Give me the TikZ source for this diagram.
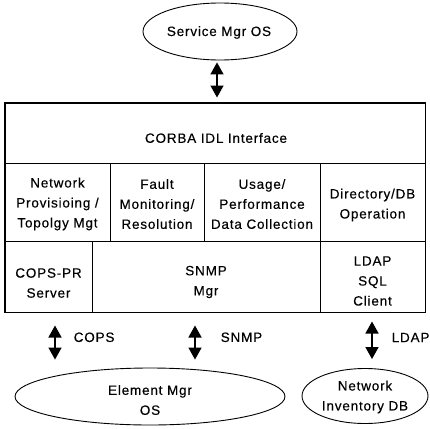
\documentclass[tikz,border=0pt]{standalone}
\usepackage{fontspec}
\setmainfont{Liberation Sans}[LetterSpace=6,FakeBold=0.3]
\usetikzlibrary{arrows.meta,shapes.geometric}
\begin{document}
\begin{tikzpicture}[x=1pt,y=-1pt,
  txt/.style={font=\fontsize{13.5}{20}\selectfont, align=center, inner sep=0pt},
  cell/.style={draw, line width=1pt, inner sep=0pt, minimum width=#1},
  oval/.style={draw, ellipse, line width=0.9pt, inner sep=0pt},
  biarrow/.style={line width=1.5pt, {Triangle[width=13pt,length=12pt]}-{Triangle[width=13pt,length=12pt]}}
]
\useasboundingbox (0,0) rectangle (430,428);
% top ellipse
\node[oval, minimum width=154pt, minimum height=57pt] (svc) at (220,31.5) {};
\node[txt] at (219,32.5) {Service Mgr OS};
% row 1
\node[cell=420pt, minimum height=60pt] (corba) at (215,133) {};
\node[txt] at (216,138) {CORBA IDL Interface};
% row 2
\node[cell=105pt, minimum height=78pt] (np) at (57.5,202) {};
\node[cell=94pt, minimum height=78pt] (fm) at (157,202) {};
\node[cell=116pt, minimum height=78pt] (up) at (262,202) {};
\node[cell=105pt, minimum height=78pt] (dir) at (372.5,202) {};
\node[txt] at (57.5,204) {Network\\Provisioing /\\Topolgy Mgt};
\node[txt] at (157,204) {Fault\\Monitoring/\\Resolution};
\node[txt] at (262,204) {Usage/\\Performance\\Data Collection};
\node[txt] at (372.5,205) {Directory/DB\\Operation};
% row 3
\node[cell=87pt, minimum height=71pt] (cops) at (48.5,276.5) {};
\node[cell=228pt, minimum height=71pt] (snmp) at (206,276.5) {};
\node[cell=105pt, minimum height=71pt] (ldap) at (372.5,276.5) {};
\node[txt] at (48.5,283) {COPS-PR\\Server};
\node[txt] at (206,282) {SNMP\\Mgr};
\node[txt] at (372.5,281) {LDAP\\SQL\\Client};
% outer frame
\draw[line width=1.4pt] (corba.north west) rectangle (ldap.south east);
% bottom ellipses
\node[oval, minimum width=270pt, minimum height=57pt] (elem) at (150,396.5) {};
\node[txt] at (150,400) {Element Mgr\\OS};
\node[oval, minimum width=126pt, minimum height=55pt] (inv) at (365,396) {};
\node[txt] at (365,397) {Network\\Inventory DB};
% arrows
\coordinate (xs) at (217,0);
\coordinate (xa) at (55,0);
\coordinate (xb) at (195,0);
\coordinate (xc) at (372,0);
\draw[biarrow, shorten <=2pt, shorten >=5pt] (svc.south -| xs) -- (corba.north -| xs);
\draw[biarrow, shorten <=13pt, shorten >=8pt] (cops.south -| xa) -- node[txt, right=18pt, pos=0.45] {COPS} (elem.north -| xa);
\draw[biarrow, shorten <=13pt, shorten >=8pt] (snmp.south -| xb) -- node[txt, right=25pt, pos=0.45] {SNMP} (elem.north -| xb);
\draw[biarrow, shorten <=9pt, shorten >=9pt] (ldap.south -| xc) -- node[txt, right=19pt, pos=0.45] {LDAP} (inv.north -| xc);
\end{tikzpicture}
\end{document}
